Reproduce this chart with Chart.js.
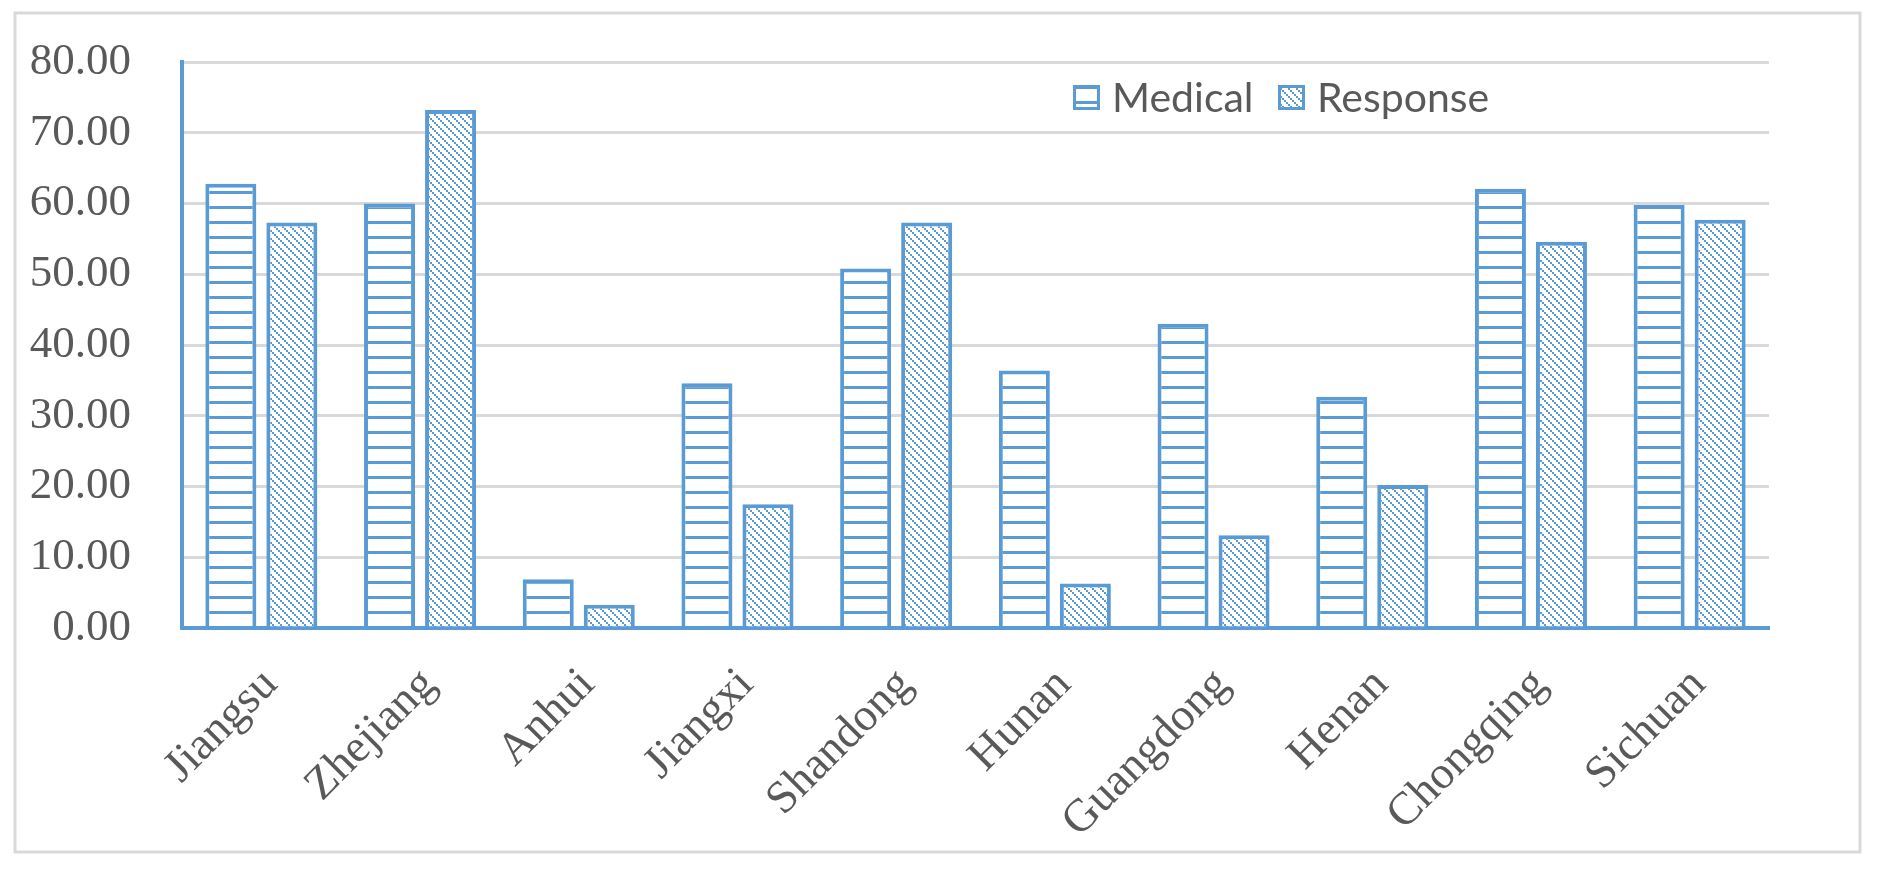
<!DOCTYPE html>
<html>
<head>
<meta charset="utf-8">
<script src="https://cdn.jsdelivr.net/npm/chart.js@4/dist/chart.umd.min.js"></script>
<style>
  html, body { margin: 0; padding: 0; background: #fff; }
  #wrap { width: 1877px; height: 875px; }
</style>
</head>
<body>
<div id="wrap"><canvas id="chart" width="1877" height="875"></canvas></div>
<script>
// values
const provinces = ["Jiangsu", "Zhejiang", "Anhui", "Jiangxi", "Shandong", "Hunan", "Guangdong", "Henan", "Chongqing", "Sichuan"];
const medical = [62.8, 60.0, 6.9, 34.6, 50.8, 36.4, 43.0, 32.7, 62.1, 59.8];
const response = [57.3, 73.2, 3.3, 17.5, 57.3, 6.3, 13.1, 20.2, 54.6, 57.7];
const seriesNames = ["Medical", "Response"];

const BLUE = "#5B9BD5";
const GRID = "#D9D9D9";
const TEXT = "#595959";

// horizontal stripes, period 15px
function stripePattern() {
  const c = document.createElement("canvas");
  c.width = 15;
  c.height = 15;
  const g = c.getContext("2d");
  g.fillStyle = "#fff";
  g.fillRect(0, 0, 15, 15);
  g.fillStyle = BLUE;
  g.fillRect(0, 11, 15, 3);
  return g.createPattern(c, "repeat");
}

// dotted diagonal lines going down-right
function dotPattern() {
  const c = document.createElement("canvas");
  c.width = 8;
  c.height = 8;
  const g = c.getContext("2d");
  g.fillStyle = "#fff";
  g.fillRect(0, 0, 8, 8);
  g.fillStyle = BLUE;
  for (let k = 0; k < 8; k += 2) g.fillRect(k, k, 2, 2);
  return g.createPattern(c, "repeat");
}

const frame = {
  id: "frame",
  beforeDraw(chart) {
    const ctx = chart.ctx;
    ctx.save();
    ctx.fillStyle = "#fff";
    ctx.fillRect(0, 0, chart.width, chart.height);
    ctx.strokeStyle = GRID;
    ctx.lineWidth = 3;
    ctx.strokeRect(15, 13, 1845, 839);
    ctx.restore();
  },
};

const legendBoxes = {
  id: "legendBoxes",
  afterDraw(chart) {
    const ctx = chart.ctx;
    const spots = [1073, 1278];
    ctx.save();
    ctx.font = "41px Lato";
    ctx.textBaseline = "alphabetic";
    chart.data.datasets.forEach((ds, i) => {
      const x = spots[i];
      ctx.fillStyle = ds.backgroundColor;
      ctx.fillRect(x, 85, 27, 25);
      ctx.strokeStyle = BLUE;
      ctx.lineWidth = 3;
      ctx.strokeRect(x + 1.5, 86.5, 24, 22);
      ctx.fillStyle = TEXT;
      ctx.fillText(ds.label, x + 39, 112);
    });
    ctx.restore();
  },
};

const ctx = document.getElementById("chart");
const chart = new Chart(ctx, {
  type: "bar",
  data: {
    labels: provinces,
    datasets: [
      {
        label: seriesNames[0],
        data: medical,
        backgroundColor: stripePattern(),
        borderColor: BLUE,
        borderWidth: 4,
      },
      {
        label: seriesNames[1],
        data: response,
        backgroundColor: dotPattern(),
        borderColor: BLUE,
        borderWidth: 4,
      },
    ],
  },
  options: {
    responsive: false,
    animation: false,
    layout: {
      padding: { left: 0, top: 62, right: 108, bottom: 0 },
    },
    datasets: {
      bar: {
        barPercentage: 0.836,
        categoryPercentage: 0.769,
      },
    },
    scales: {
      y: {
        min: 0,
        max: 80,
        afterFit: (scale) => {
          scale.width = 182;
          scale.paddingTop = 0;
          scale.paddingBottom = 0;
        },
        border: { display: true, color: BLUE, width: 4 },
        grid: { color: GRID, lineWidth: 3, drawTicks: false },
        ticks: {
          stepSize: 10,
          padding: 51,
          color: TEXT,
          font: { family: "Liberation Serif", size: 45 },
          callback: (v) => v.toFixed(2),
        },
      },
      x: {
        afterFit: (scale) => { scale.height = 247; },
        border: { display: true, color: BLUE, width: 4 },
        grid: { display: false, drawTicks: false },
        ticks: {
          autoSkip: false,
          minRotation: 45,
          maxRotation: 45,
          padding: 30,
          labelOffset: 9,
          color: TEXT,
          font: { family: "Liberation Serif", size: 46 },
        },
      },
    },
    plugins: {
      legend: { display: false },
      tooltip: { enabled: false },
    },
  },
  plugins: [frame, legendBoxes],
});
</script>
</body>
</html>
